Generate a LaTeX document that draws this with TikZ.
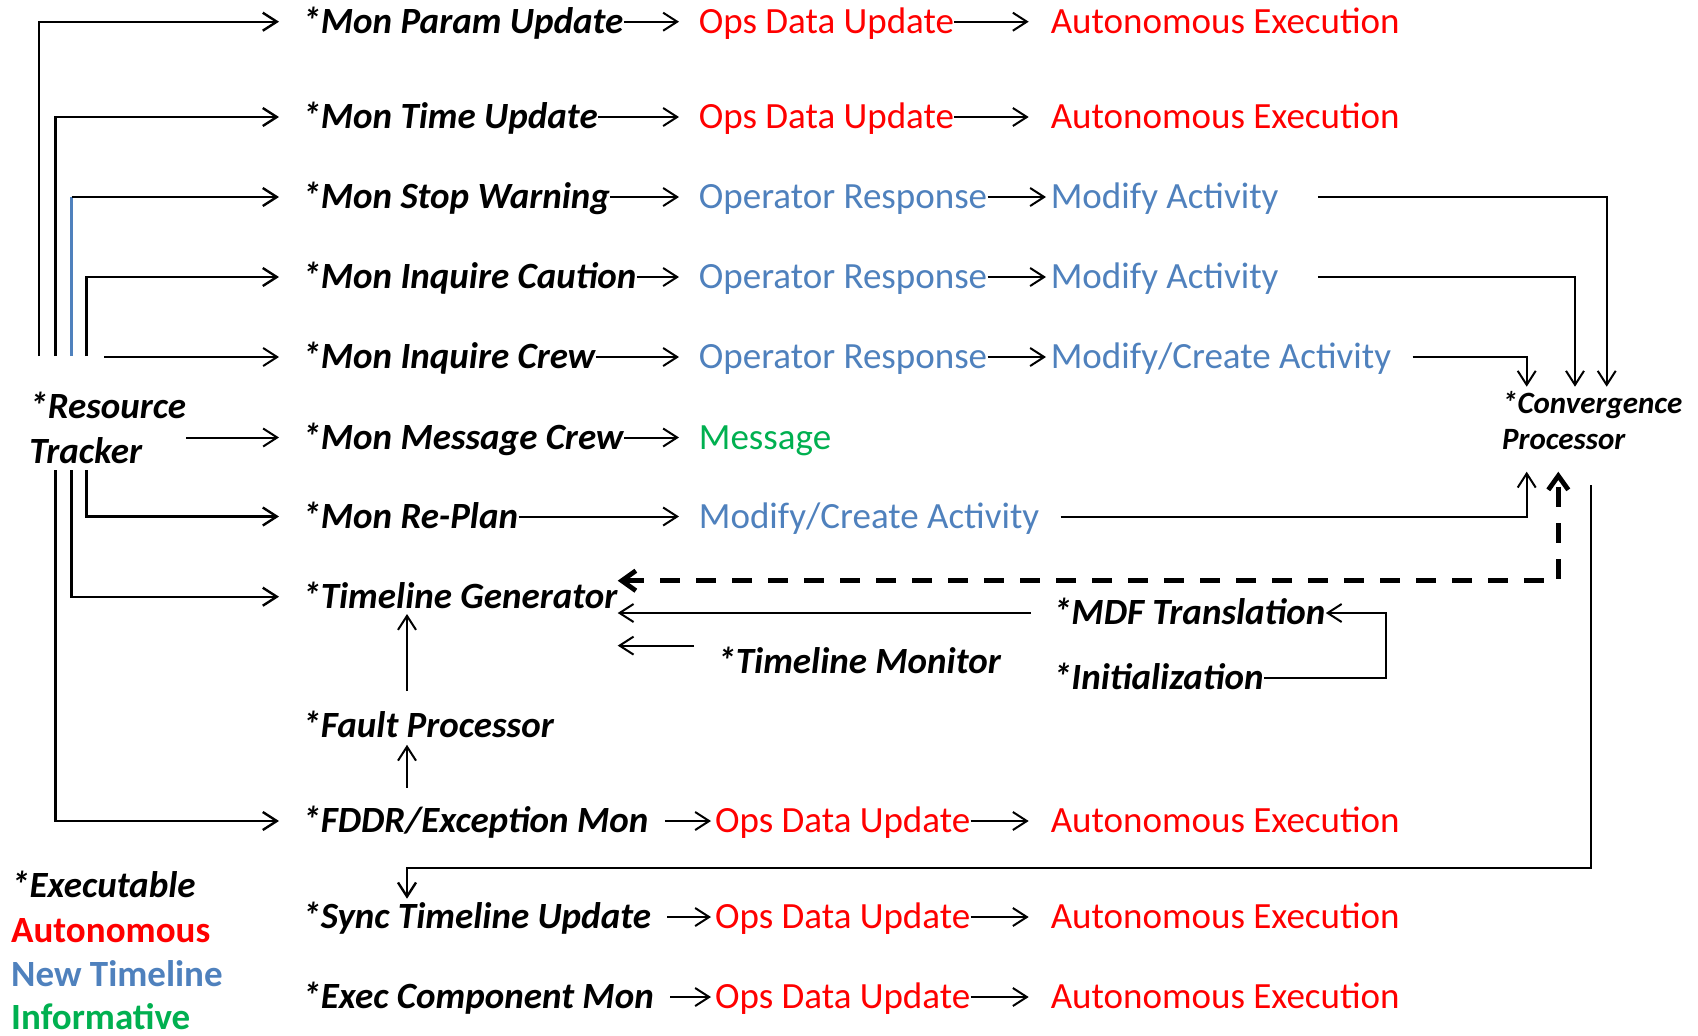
\documentclass[tikz,border=0pt]{standalone}
\usepackage{fontspec}
\setmainfont{Carlito}
\usetikzlibrary{arrows.meta,calc}
\definecolor{autored}{HTML}{FF0000}
\definecolor{ntblue}{HTML}{4F81BD}
\definecolor{infgreen}{HTML}{00B050}
\begin{document}
\begin{tikzpicture}[x=0.5pt,y=-0.5pt,
  lbl/.style={anchor=west, inner sep=0pt, text height=11.9pt, text depth=0pt, font=\fontsize{18.5}{22.25}\selectfont},
  ex/.style={lbl, font=\fontsize{18.5}{22.25}\selectfont\bfseries\itshape},
  au/.style={lbl, text=autored},
  nt/.style={lbl, text=ntblue},
  inf/.style={lbl, text=infgreen},
  legend/.style={lbl, font=\fontsize{18.5}{22.25}\selectfont\bfseries},
  ar/.style={-{Straight Barb[length=7pt,width=9pt]}, line width=1pt},
  arl/.style={ar, line width=1.2pt},
  aone/.style={ar, shorten >=9.75pt},
  ared/.style={ar, shorten >=10.85pt},
  ablue/.style={ar, shorten >=2.2pt},
  alow/.style={ar, shorten <=8pt, shorten >=1.85pt},
  dar/.style={{Straight Barb[length=7pt,width=10pt,line width=2.4pt]}-{Straight Barb[length=7pt,width=10pt,line width=2.4pt]}, line width=2.4pt, dash pattern=on 10pt off 8pt}
]
\useasboundingbox (0,0) rectangle (1698,1035);

% rows
\node[ex] (mp) at (302,21.7) {*Mon Param Update};
\node[au] (od1) at (698.5,21.7) {Ops Data Update};
\node[au] (ae1) at (1050.4,21.7) {Autonomous Execution};
\node[ex] (mt) at (302,117) {*Mon Time Update};
\node[au] (od2) at (698.5,117) {Ops Data Update};
\node[au] (ae2) at (1050.4,117) {Autonomous Execution};
\node[ex] (ms) at (302,197) {*Mon Stop Warning};
\node[nt] (or1) at (698.5,197) {Operator Response};
\node[nt] (ma1) at (1050.4,197) {Modify Activity};
\node[ex] (mc) at (302,277) {*Mon Inquire Caution};
\node[nt] (or2) at (698.5,277) {Operator Response};
\node[nt] (ma2) at (1050.4,277) {Modify Activity};
\node[ex] (mcr) at (302,357) {*Mon Inquire Crew};
\node[nt] (or3) at (698.5,357) {Operator Response};
\node[nt] (ma3) at (1050.4,357) {Modify/Create Activity};
\node[ex] (mm) at (302,437.5) {*Mon Message Crew};
\node[inf] (msg) at (698.5,437.5) {Message};
\node[ex] (mr) at (302,516.5) {*Mon Re-Plan};
\node[nt] (mca) at (698.5,516.5) {Modify/Create Activity};
\node[ex] (tg) at (302,596.7) {*Timeline Generator};
\node[ex] (mdf) at (1052.6,613) {*MDF Translation};
\node[ex] (tm) at (717,661.6) {*Timeline Monitor};
\node[ex] (ini) at (1052.6,678) {*Initialization};
\node[ex] (fp) at (302,725.5) {*Fault Processor};
\node[ex] (fd) at (302,821) {*FDDR/Exception Mon};
\node[au] (od3) at (714.7,821) {Ops Data Update};
\node[au] (ae3) at (1050.4,821) {Autonomous Execution};
\node[ex] (sy) at (302,917) {*Sync Timeline Update};
\node[au] (od4) at (714.7,917) {Ops Data Update};
\node[au] (ae4) at (1050.4,917) {Autonomous Execution};
\node[ex] (ec) at (302,997) {*Exec Component Mon};
\node[au] (od5) at (714.7,997) {Ops Data Update};
\node[au] (ae5) at (1050.4,997) {Autonomous Execution};

% tracker, convergence, legend
\node[font=\fontsize{18.5}{22.25}\selectfont\bfseries\itshape, align=left, anchor=north west, inner sep=0pt] (rt) at (29,392) {*Resource\\Tracker};
\node[font=\fontsize{15.5}{18.35}\selectfont\bfseries\itshape, align=left, anchor=north west, inner sep=0pt] (cp) at (1501.7,390.5) {*Convergence\\Processor};
\node[legend, font=\fontsize{18.5}{22.25}\selectfont\bfseries\itshape] (lg1) at (10.8,885.8) {*Executable};
\node[legend, text=autored] (lg2) at (10.8,930.5) {Autonomous};
\node[legend, text=ntblue] (lg3) at (10.8,975) {New Timeline};
\node[legend, text=infgreen] (lg4) at (10.8,1018) {Informative};

% row arrows
\draw[aone] (mp.east) -- (od1.west);
\draw[ared] (od1.east) -- (ae1.west);
\draw[aone] (mt.east) -- (od2.west);
\draw[ared] (od2.east) -- (ae2.west);
\draw[aone] (ms.east) -- (or1.west);
\draw[ablue] (or1.east) -- (ma1.west);
\draw[aone] (mc.east) -- (or2.west);
\draw[ablue] (or2.east) -- (ma2.west);
\draw[aone] (mcr.east) -- (or3.west);
\draw[ablue] (or3.east) -- (ma3.west);
\draw[aone] (mm.east) -- (msg.west);
\draw[aone] (mr.east) -- (mca.west);
\draw[alow] (fd.east) -- (od3.west);
\draw[ared] (od3.east) -- (ae3.west);
\draw[alow] (sy.east) -- (od4.west);
\draw[ared] (od4.east) -- (ae4.west);
\draw[alow] (ec.east) -- (od5.west);
\draw[ared] (od5.east) -- (ae5.west);

% tracker lines
\coordinate (t1) at (39,356);
\coordinate (t2) at (55.3,356);
\coordinate (t3) at (71.5,356);
\coordinate (t4) at (86.6,356);
\coordinate (b2) at (55.3,470);
\coordinate (b3) at (71.5,470);
\coordinate (b4) at (86.6,470);
\draw[arl] (t1) |- ($(mp.west)+(-23,0)$);
\draw[arl] (t2) |- ($(mt.west)+(-23,0)$);
\draw[line width=1.2pt, ntblue] (t3) -- (t3 |- ms.west);
\draw[arl] (t3 |- ms.west) -- ($(ms.west)+(-23,0)$);
\draw[arl] (t4) |- ($(mc.west)+(-23,0)$);
\draw[ar] ($(mcr.west)+(-198,0)$) -- ($(mcr.west)+(-23,0)$);
\draw[ar] (rt.east |- mm.west) -- ($(mm.west)+(-23,0)$);
\draw[arl] (b4) |- ($(mr.west)+(-23,0)$);
\draw[arl] (b3) |- ($(tg.west)+(-23,0)$);
\draw[arl] (b2) |- ($(fd.west)+(-23,0)$);

% convergence connections
\coordinate (cpA) at (1526.7,386.7);
\coordinate (cpB) at (1575,386.7);
\coordinate (cpC) at (1606.7,386.7);
\coordinate (cpD) at (1526.7,471.7);
\coordinate (cpE) at (1558.3,471.7);
\coordinate (cpF) at (1590.7,485);
\draw[ar] ($(ma1.east)+(39,0)$) -| (cpC);
\draw[ar] ($(ma2.east)+(39,0)$) -| (cpB);
\draw[ar] ($(ma3.east)+(21,0)$) -| (cpA);
\draw[ar] ($(mca.east)+(21,0)$) -| (cpD);
\draw[dar] ($(tg.east)+(0,-16)$) -| (cpE);
\draw[arl] (cpF) |- ($(sy.north west)+(105,-36.5)$) -- ($(sy.north west)+(105,-6)$);

% timeline generator inputs
\draw[ar] ($(mdf.west)+(-22,0)$) -- (tg.east |- mdf.west);
\draw[ar] ($(tm.west)+(-23,-16)$) -- ($(tg.east |- tm.west)+(0,-16)$);
\draw[ar] (ini.east) -| ($(mdf.east)+(60,0)$) -- (mdf.east);
\draw[ar] ($(fd.north west)+(105,-21)$) -- ($(fp.south west)+(105,7)$);
\draw[ar] ($(fp.north west)+(105,-22)$) -- ($(tg.south west)+(105,5)$);
\end{tikzpicture}
\end{document}
